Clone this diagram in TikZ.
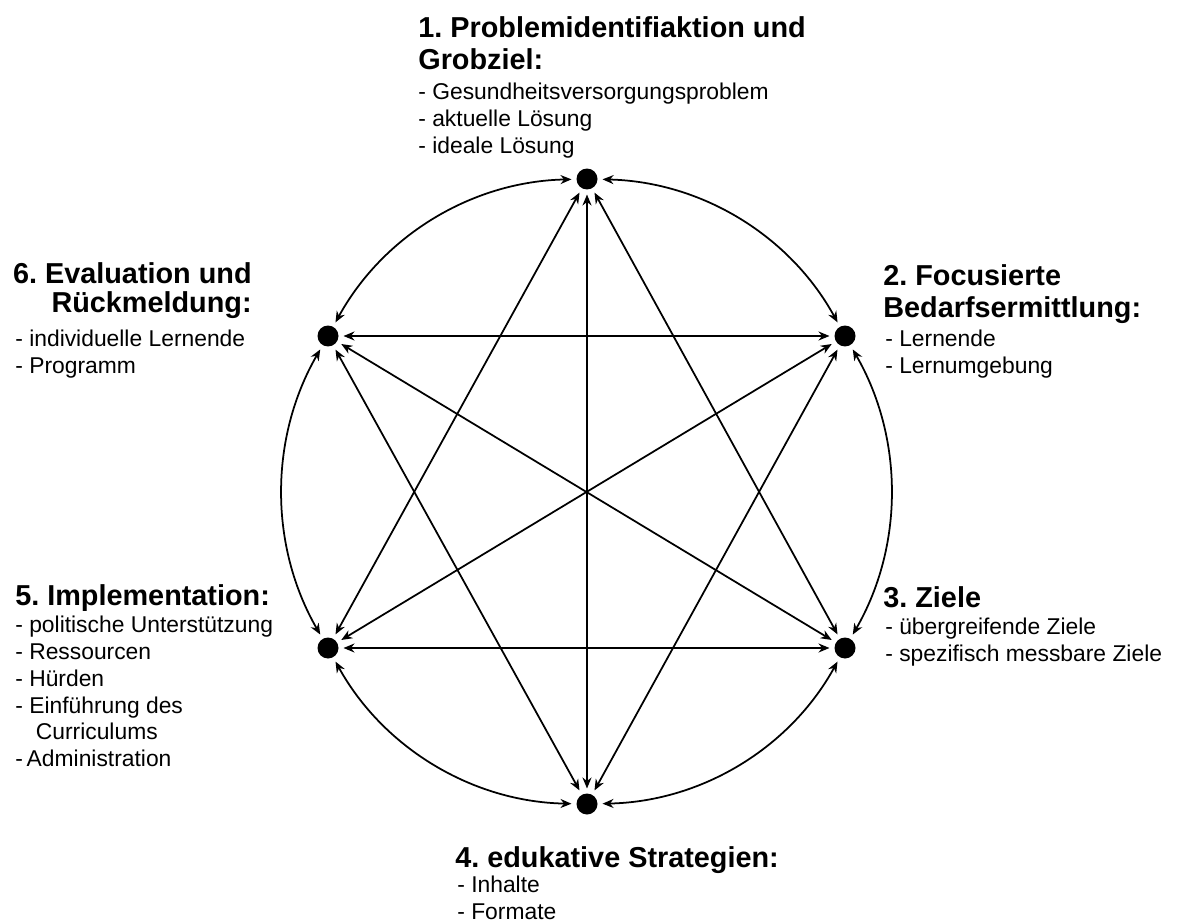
\documentclass[tikz,border=0pt]{standalone}
\usepackage{fontspec}
\setmainfont{Liberation Sans}
\frenchspacing
\usetikzlibrary{arrows.meta,positioning}
\tikzstyle{phase} = [circle, fill=black, minimum size=0.42cm, inner sep=0pt, outer sep=0.1cm]
\tikzstyle{phasetitle} = [anchor=north west, inner sep=0pt, align=left, font=\fontsize{16.4}{18.3}\selectfont\bfseries]
\tikzstyle{phaselist} = [anchor=north west, inner sep=0pt, align=left, font=\fontsize{13}{15.2}\selectfont]
\tikzstyle{link} = [{Stealth[length=2.2mm,width=1.8mm]}-{Stealth[length=2.2mm,width=1.8mm]}, line width=1pt]

\begin{document}
\begin{tikzpicture}[x=0.02cm, y=-0.02cm]
\useasboundingbox (0,0) rectangle (1180,922);

% the six phases
\node[phase] (p1) at (587,179) {};
\node[phase] (p2) at (845,336) {};
\node[phase] (p3) at (845,648) {};
\node[phase] (p4) at (587,804) {};
\node[phase] (p5) at (328,648) {};
\node[phase] (p6) at (328,336) {};

% labels
\node[phasetitle] (t1) at (418,16) {1. Problemidentifiaktion und\\Grobziel:};
\node[phaselist] (l1) at (418,83) {- Gesundheitsversorgungsproblem\\- aktuelle Lösung\\- ideale Lösung};
\node[phasetitle] (t2) at (883,264) {2. Focusierte\\Bedarfsermittlung:};
\node[phaselist] (l2) at (885,330) {- Lernende\\- Lernumgebung};
\node[phasetitle] (t3) at (883,586) {3. Ziele};
\node[phaselist] (l3) at (885,618) {- übergreifende Ziele\\- spezifisch messbare Ziele};
\node[phasetitle] (t4) at (455,846) {4. edukative Strategien:};
\node[phaselist] (l4) at (457,876) {- Inhalte\\- Formate};
\node[phasetitle] (t5) at (15,584) {5. Implementation:};
\node[phaselist] (l5) at (15,616) {- politische Unterstützung\\- Ressourcen\\- Hürden\\- Einführung des\\\hspace{0.9em}Curriculums\\-\,Administration};
\node[phasetitle, anchor=north east, align=right, font=\fontsize{16.4}{16.4}\selectfont\bfseries] (t6) at (252,262) {6. Evaluation und\\Rückmeldung:};
\node[phaselist] (l6) at (15,330) {- individuelle Lernende\\- Programm};

% arcs between neighbours
\foreach \a/\b in {p1/p2, p2/p3, p3/p4, p4/p5, p5/p6, p6/p1}
  \draw[link] (\a) to[bend left=30, looseness=0.92] (\b);

% straight links
\foreach \a/\b in {p1/p3, p1/p4, p1/p5, p2/p4, p2/p5, p2/p6, p3/p5, p3/p6, p4/p6}
  \draw[link] (\a) -- (\b);
\end{tikzpicture}
\end{document}
